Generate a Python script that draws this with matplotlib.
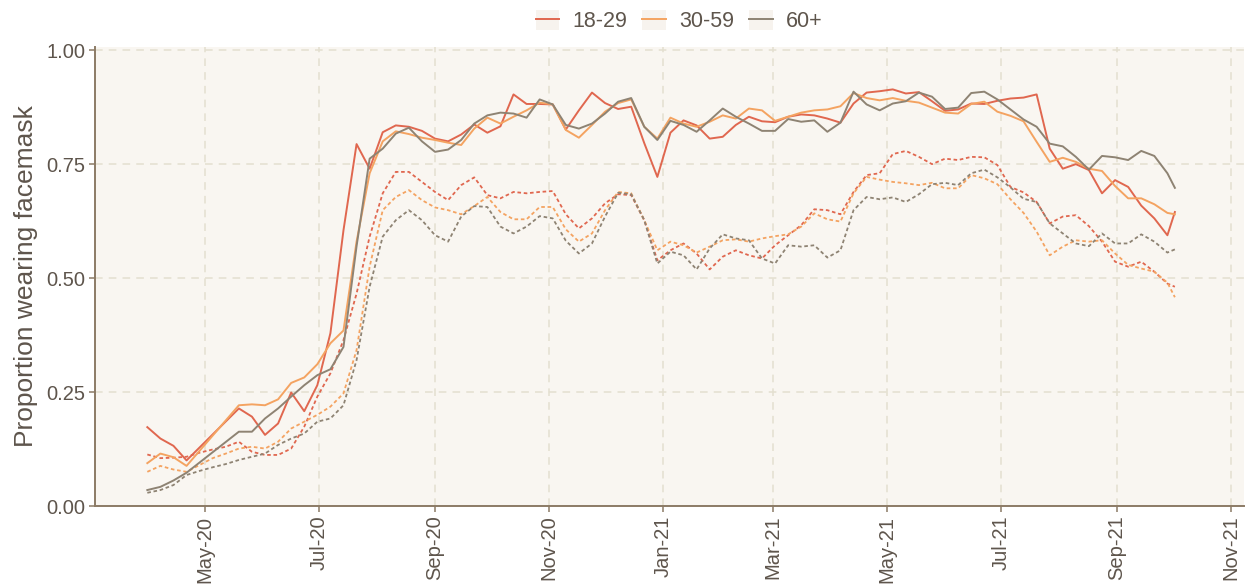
import numpy as np
import pandas as pd
import matplotlib
matplotlib.use("Agg")
import matplotlib.pyplot as plt
import matplotlib.dates as mdates
from matplotlib.lines import Line2D
from matplotlib.patches import Patch

plt.rcParams['font.family'] = ['Liberation Sans', 'DejaVu Sans']

# weekly survey dates (plus a final short wave)
dates = list(pd.date_range('2020-03-31', periods=79, freq='7D')) + [pd.Timestamp('2021-10-02')]
na = np.nan

groups = ['18-29', '30-59', '60+']

solid_18_29 = [0.173, 0.148, 0.132, 0.100, na, na, na, 0.214, 0.196, 0.156, 0.181, 0.249, 0.208, 0.265, 0.379, 0.605,
               0.794, 0.740, 0.820, 0.835, 0.832, 0.823, 0.806, 0.800, 0.815, 0.837, 0.819, 0.833, 0.903, 0.882, 0.882, 0.881,
               0.826, 0.868, 0.907, 0.884, 0.871, 0.876, 0.796, 0.722, 0.819, 0.846, 0.835, 0.806, 0.810, 0.836, 0.854, 0.844,
               0.842, 0.854, 0.859, 0.857, 0.850, 0.841, 0.883, 0.907, 0.910, 0.914, 0.905, 0.908, 0.888, 0.867, 0.870, 0.883,
               0.882, 0.889, 0.894, 0.896, 0.903, 0.784, 0.740, 0.750, 0.737, 0.686, 0.715, 0.700, 0.659, 0.631, 0.594, 0.645]
solid_30_59 = [0.094, 0.115, 0.107, 0.088, na, na, na, 0.221, 0.223, 0.221, 0.234, 0.270, 0.282, 0.311, 0.357, 0.385,
               0.580, 0.730, 0.800, 0.822, 0.816, 0.808, 0.803, 0.797, 0.792, 0.828, 0.852, 0.839, 0.854, 0.868, 0.885, 0.881,
               0.825, 0.808, 0.836, 0.865, 0.884, 0.892, 0.832, 0.806, 0.852, 0.839, 0.832, 0.843, 0.857, 0.850, 0.872, 0.868,
               0.845, 0.854, 0.863, 0.868, 0.870, 0.877, 0.906, 0.895, 0.890, 0.895, 0.889, 0.885, 0.874, 0.863, 0.861, 0.882,
               0.887, 0.865, 0.856, 0.844, 0.799, 0.755, 0.764, 0.755, 0.740, 0.735, 0.702, 0.675, 0.675, 0.662, 0.643, 0.640]
solid_60p = [0.035, 0.042, 0.056, 0.073, na, na, na, 0.163, 0.163, 0.192, 0.214, 0.240, 0.265, 0.287, 0.300, 0.349,
             0.570, 0.762, 0.784, 0.817, 0.830, 0.800, 0.777, 0.782, 0.803, 0.839, 0.857, 0.863, 0.861, 0.852, 0.892, 0.881,
             0.836, 0.828, 0.839, 0.861, 0.887, 0.895, 0.832, 0.803, 0.845, 0.836, 0.821, 0.846, 0.872, 0.854, 0.839, 0.823,
             0.823, 0.849, 0.843, 0.846, 0.821, 0.841, 0.909, 0.881, 0.868, 0.883, 0.888, 0.907, 0.898, 0.871, 0.874, 0.906,
             0.909, 0.892, 0.870, 0.848, 0.832, 0.795, 0.789, 0.766, 0.738, 0.768, 0.765, 0.759, 0.779, 0.768, 0.730, 0.698]

dotted_18_29 = [0.113, 0.105, 0.106, 0.108, 0.117, 0.124, 0.130, 0.141, 0.119, 0.112, 0.112, 0.126, 0.174, 0.240, 0.291, 0.364,
                0.466, 0.591, 0.686, 0.733, 0.733, 0.711, 0.689, 0.671, 0.704, 0.721, 0.682, 0.675, 0.689, 0.686, 0.689, 0.691,
                0.640, 0.609, 0.631, 0.664, 0.684, 0.682, 0.627, 0.539, 0.561, 0.576, 0.554, 0.519, 0.547, 0.561, 0.550, 0.543,
                0.572, 0.594, 0.616, 0.651, 0.649, 0.640, 0.689, 0.726, 0.730, 0.772, 0.779, 0.766, 0.750, 0.762, 0.759, 0.766,
                0.765, 0.748, 0.700, 0.688, 0.667, 0.620, 0.635, 0.638, 0.614, 0.580, 0.536, 0.525, 0.536, 0.514, 0.488, 0.481]
dotted_30_59 = [0.075, 0.088, 0.080, 0.075, 0.090, 0.105, 0.115, 0.126, 0.130, 0.126, 0.141, 0.170, 0.185, 0.200, 0.218, 0.247,
                0.342, 0.525, 0.649, 0.678, 0.693, 0.671, 0.655, 0.649, 0.640, 0.658, 0.678, 0.645, 0.629, 0.629, 0.656, 0.656,
                0.607, 0.580, 0.598, 0.649, 0.689, 0.686, 0.627, 0.561, 0.580, 0.572, 0.556, 0.569, 0.583, 0.585, 0.580, 0.587,
                0.592, 0.596, 0.613, 0.642, 0.629, 0.624, 0.686, 0.722, 0.716, 0.711, 0.708, 0.704, 0.709, 0.697, 0.697, 0.726,
                0.719, 0.706, 0.673, 0.643, 0.602, 0.550, 0.569, 0.583, 0.580, 0.583, 0.554, 0.529, 0.521, 0.514, 0.490, 0.458]
dotted_60p = [0.029, 0.035, 0.046, 0.068, 0.077, 0.085, 0.092, 0.101, 0.108, 0.115, 0.134, 0.148, 0.159, 0.185, 0.192, 0.221,
              0.320, 0.481, 0.591, 0.627, 0.649, 0.627, 0.594, 0.580, 0.635, 0.658, 0.656, 0.613, 0.598, 0.613, 0.636, 0.631,
              0.582, 0.554, 0.576, 0.635, 0.687, 0.684, 0.627, 0.532, 0.558, 0.550, 0.519, 0.565, 0.596, 0.587, 0.583, 0.543,
              0.532, 0.572, 0.569, 0.572, 0.545, 0.561, 0.649, 0.678, 0.673, 0.677, 0.667, 0.684, 0.706, 0.709, 0.704, 0.730,
              0.738, 0.721, 0.699, 0.674, 0.667, 0.620, 0.598, 0.576, 0.570, 0.598, 0.576, 0.576, 0.596, 0.580, 0.556, 0.563]

colors = ['#E0674F', '#F4A361', '#8E8373']
text_col = '#5E554C'
axis_col = '#8C7B66'
grid_col = '#E4DFD0'
panel_bg = '#F9F6F1'

fig = plt.figure(figsize=(12.54, 5.85), dpi=100)
ax = fig.add_axes([95 / 1254, 79 / 585, (1244 - 95) / 1254, (506 - 47) / 585])
ax.set_facecolor(panel_bg)

x = np.array(dates, dtype='datetime64[ns]')
solids = [solid_18_29, solid_30_59, solid_60p]
dotteds = [dotted_18_29, dotted_30_59, dotted_60p]

for d, c in zip(dotteds, colors):
    ax.plot(x, d, color=c, lw=1.3, linestyle=(0, (2.0, 1.5)), zorder=3)
for s, c, g in zip(solids, colors, groups):
    s = np.array(s, dtype=float)
    m = ~np.isnan(s)
    ax.plot(x[m], s[m], color=c, lw=1.4, zorder=4, label=g)

ax.set_ylim(0, 1.007)
ax.set_xlim(pd.Timestamp('2020-03-03'), pd.Timestamp('2021-11-08'))
ax.set_yticks([0, 0.25, 0.5, 0.75, 1.0])
ax.set_yticklabels(['0.00', '0.25', '0.50', '0.75', '1.00'])
ax.xaxis.set_major_locator(mdates.MonthLocator(bymonth=[1, 3, 5, 7, 9, 11]))
ax.xaxis.set_major_formatter(mdates.DateFormatter('%b-%y'))
plt.setp(ax.get_xticklabels(), rotation=90)

ax.grid(True, color=grid_col, linestyle=(0, (5, 4)), lw=1.1, zorder=0)
ax.set_axisbelow(True)

for sp in ['top', 'right']:
    ax.spines[sp].set_visible(False)
for sp in ['left', 'bottom']:
    ax.spines[sp].set_color(axis_col)
    ax.spines[sp].set_linewidth(1.4)
ax.tick_params(axis='both', colors=axis_col, labelcolor=text_col, labelsize=14.5, length=4, width=1.1, pad=3)

ax.set_ylabel('Proportion wearing facemask', fontsize=19, color=text_col, labelpad=6)

handles = [(Patch(facecolor='#F7F3EE', edgecolor='none'), Line2D([], [], color=c, lw=1.4)) for c in colors]
fig.legend(handles, groups, loc='center', bbox_to_anchor=(679 / 1254, 1 - 21 / 585), ncol=3, frameon=False,
           fontsize=15.5, labelcolor=text_col, handlelength=1.1, handleheight=1.1, handletextpad=0.6,
           columnspacing=0.7)

fig.savefig('out.png', dpi=100, facecolor='white')
